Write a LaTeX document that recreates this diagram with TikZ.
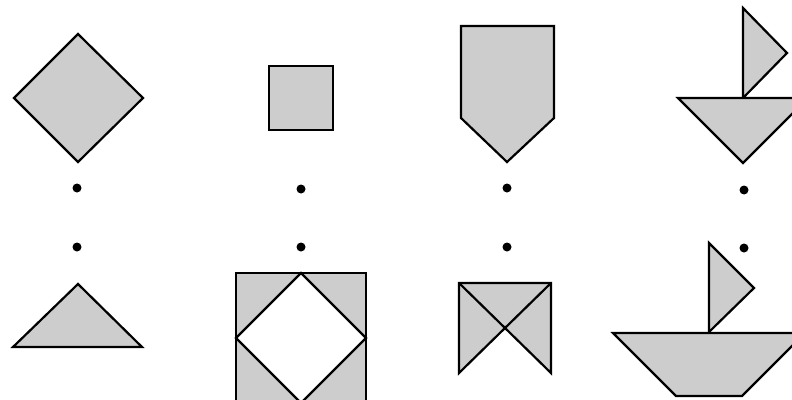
\documentclass[tikz,border=0pt]{standalone}
\definecolor{shapegray}{RGB}{205,205,205}
\begin{document}
\begin{tikzpicture}[x=1pt,y=-1pt,
  piece/.style={draw=black,fill=shapegray,line width=2.2pt,line join=miter},
  edge/.style={draw=black,line width=2.2pt},
  dot/.style={fill=black,draw=none}]
\useasboundingbox (0,0) rectangle (792,399);
\clip (0,0) rectangle (792,399);
% column 1
\path[piece] (14,98) -- (78,34) -- (143,98) -- (78,162) -- cycle;
\path[piece] (13,347) -- (78,284) -- (142,347) -- cycle;
% column 2
\path[piece] (269,66) rectangle (333,130);
\path[piece] (236,273) rectangle (366,403);
\path[draw=black,fill=white,line width=2.2pt] (301,273) -- (366,338) -- (301,403) -- (236,338) -- cycle;
% column 3
\path[piece] (461,26) -- (554,26) -- (554,118) -- (507,162) -- (461,118) -- cycle;
\path[piece] (459,283) -- (551,283) -- (551,373) -- (505,328) -- (459,373) -- cycle;
\path[edge] (459,283) -- (505,328) -- (551,283);
% column 4
\path[piece] (743,8) -- (787,53) -- (743,98) -- cycle;
\path[piece] (678,98) -- (808,98) -- (743,163) -- cycle;
\path[piece] (709,243) -- (754,288) -- (709,332) -- cycle;
\path[piece] (613,333) -- (805,333) -- (742,396) -- (676,396) -- cycle;
% dots
\foreach \x/\ya/\yb in {77/188/247, 301/189/247, 507/188/247, 744/190/248}{
  \path[dot] (\x,\ya) circle (4.5);
  \path[dot] (\x,\yb) circle (4.5);
}
\end{tikzpicture}
\end{document}
